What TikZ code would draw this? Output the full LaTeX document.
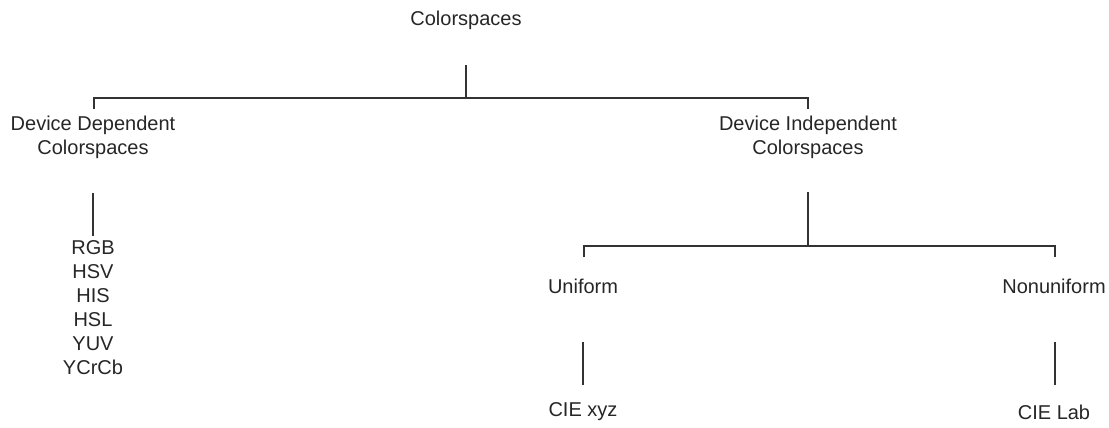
\documentclass[tikz,border=0pt]{standalone}
\usepackage{fontspec}
\setmainfont{Liberation Sans}
\begin{document}
\begin{tikzpicture}[x=1pt,y=-1pt]
  \useasboundingbox (0,0) rectangle (1109,428);

  \begin{scope}[every node/.style={text=black!85,inner sep=0pt,align=center,
      font=\fontsize{20}{24}\selectfont}]
    \node (root)  at (466,20)  {Colorspaces};
    \node (dep)   at (93,137)  {Device Dependent\\Colorspaces};
    \node (indep) at (808,137) {Device Independent\\Colorspaces};
    \node (list)  at (93,308)  {RGB\\HSV\\HIS\\HSL\\YUV\\YCrCb};
    \node (uni)   at (583,286) {Uniform};
    \node (nonu)  at (1054,286) {Nonuniform};
    \node (xyz)   at (583,412) {CIE xyz};
    \node (lab)   at (1054,412) {CIE Lab};
  \end{scope}

  % bar ends
  \coordinate (roottop) at (466,65);
  \coordinate (rootbar) at (466,98);
  \coordinate (depbar)  at (94,98);
  \coordinate (deptick) at (94,109);
  \coordinate (indbar)  at (808,98);
  \coordinate (indtick) at (808,109);
  \coordinate (listtop) at (93,193);
  \coordinate (listbot) at (93,236);
  \coordinate (indtop)  at (808,192);
  \coordinate (indjoin) at (808,246);
  \coordinate (unibar)  at (584,246);
  \coordinate (unitick) at (584,257);
  \coordinate (nonbar)  at (1055,246);
  \coordinate (nontick) at (1055,257);
  \coordinate (xyztop)  at (583,342);
  \coordinate (xyzbot)  at (583,385);
  \coordinate (labtop)  at (1055,342);
  \coordinate (labbot)  at (1055,385);

  \begin{scope}[draw=black!80,line width=1.5pt]
    \draw[line width=2.5pt] (roottop) -- (rootbar);
    \draw (deptick) -- (depbar) -- (indbar) -- (indtick);
    \draw (listtop) -- (listbot);
    \draw[line width=2.5pt] (indtop) -- (indjoin);
    \draw (unitick) -- (unibar) -- (nonbar) -- (nontick);
    \draw (xyztop) -- (xyzbot);
    \draw (labtop) -- (labbot);
  \end{scope}

\end{tikzpicture}
\end{document}
